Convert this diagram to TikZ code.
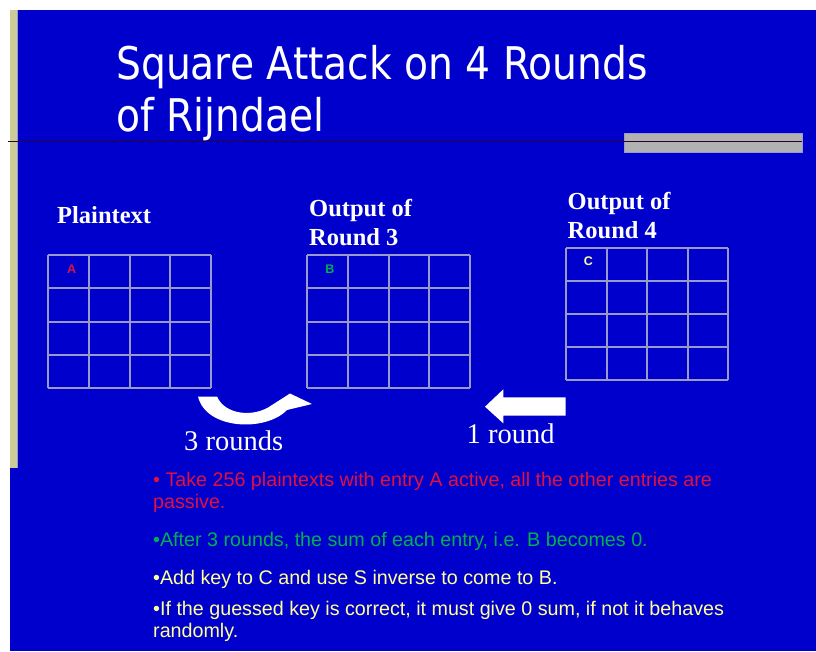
\documentclass[tikz,border=0pt]{standalone}
\usepackage{fontspec}
\setmainfont{Liberation Serif}
\newfontfamily\titlefont[FakeStretch=0.872]{DejaVu Sans}
\newfontfamily\arial{Liberation Sans}
\definecolor{bg}{RGB}{0,0,204}
\definecolor{tanbar}{RGB}{204,204,153}
\definecolor{gridc}{RGB}{153,153,204}
\definecolor{barc}{RGB}{178,178,178}
\definecolor{redt}{RGB}{224,16,64}
\definecolor{greent}{RGB}{0,176,80}
\definecolor{yellowt}{RGB}{255,255,153}
\definecolor{linec}{RGB}{45,0,45}
\tikzset{
  gridline/.style={draw=gridc, line width=2pt},
  titletext/.style={anchor=base west, inner sep=0pt, text=white, font=\titlefont\fontsize{45}{52}\selectfont},
  headtext/.style={anchor=base west, inner sep=0pt, text=white, font=\bfseries\fontsize{24.5}{28}\selectfont},
  roundtext/.style={anchor=base west, inner sep=0pt, text=white, font=\fontsize{28.5}{32}\selectfont},
  celltext/.style={anchor=center, inner sep=0pt, font=\arial\bfseries\fontsize{12.5}{13}\selectfont},
  bullettext/.style={anchor=base west, inner sep=0pt, align=left, font=\arial\fontsize{19.7}{22}\selectfont},
  bigarrow/.style={fill=white, draw=none}
}
\begin{document}
\begin{tikzpicture}[x=1pt, y=-1pt]
\useasboundingbox (0,0) rectangle (816,651);
\fill[white] (0,0) rectangle (816,651);
\fill[bg] (10,10) rectangle (816,651);
\fill[tanbar] (10,10) rectangle (17,468);
\draw[gridc, line width=1pt] (17.5,10) -- (17.5,468);
% title
\node[titletext] (t1) at (116,79) {Square Attack on 4 Rounds};
\node[titletext] (t2) at (116,131) {of Rijndael};
% rule and bar
\fill[barc, draw=gridc, line width=0.8pt] (624,133) rectangle (802,152);
\draw[linec, line width=1.6pt] (8,141.5) -- (802,141.5);
% grids
\foreach \gx/\gy [count=\k] in {48.3/255.3, 307.3/255.3, 566/247.7}{
  \begin{scope}[shift={(\gx,\gy)}]
    \foreach \i in {0,...,4}{
      \draw[gridline] ({\i*40.6},0) -- ({\i*40.6},132.5);
      \draw[gridline] (0,{\i*33.125}) -- (162.4,{\i*33.125});
    }
  \end{scope}
}
\node[celltext, text=redt] (A) at (71.7,269) {A};
\node[celltext, text=greent] (B) at (330,269) {B};
\node[celltext, text=yellowt] (C) at (588.3,261) {C};
% headings
\node[headtext] (h1) at (57,223) {Plaintext};
\node[headtext] (h2a) at (309,216.7) {Output of};
\node[headtext] (h2b) at (309,245) {Round 3};
\node[headtext] (h3a) at (567.5,209.3) {Output of};
\node[headtext] (h3b) at (567.5,238.7) {Round 4};
% curved arrow
\fill[bigarrow] (198,396.5) -- (217,396.5)
  .. controls (225,415) and (254,418) .. (272,405)
  -- (290,393.5) -- (312,404) -- (287,410)
  .. controls (266,432) and (206,430) .. (198,396.5) -- cycle;
% straight arrow
\fill[bigarrow] (485,406.7) -- (503.3,389.3) -- (503.3,397.3) -- (565.7,397.3)
  -- (565.7,415.5) -- (503.3,415.5) -- (503.3,423.3) -- cycle;
\node[roundtext] (r3) at (184,450) {3 rounds};
\node[roundtext] (r1) at (466.5,443.3) {1 round};
% bullets
\node[bullettext, text=redt] (b1) at (153,508) {• Take 256 plaintexts with entry A active, all the other entries are\\passive.};
\node[bullettext, text=greent] (b2) at (153,546) {•After 3 rounds, the sum of each entry, i.e. B becomes 0.};
\node[bullettext, text=yellowt] (b3) at (153,584) {•Add key to C and use S inverse to come to B.};
\node[bullettext, text=yellowt] (b4) at (153,637) {•If the guessed key is correct, it must give 0 sum, if not it behaves\\randomly.};
\end{tikzpicture}
\end{document}
